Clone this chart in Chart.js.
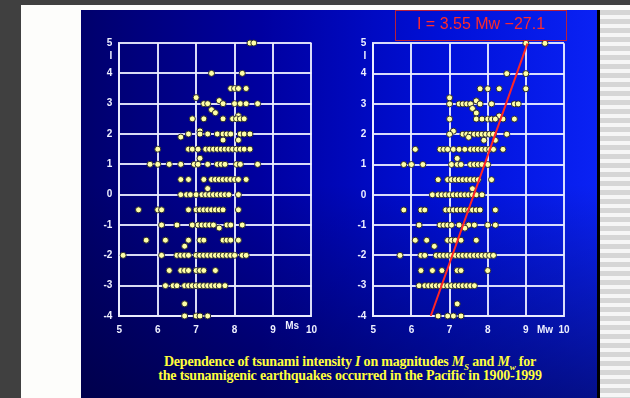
<!DOCTYPE html>
<html>
<head>
<meta charset="utf-8">
<script src="https://cdn.jsdelivr.net/npm/chart.js@4/dist/chart.umd.min.js"></script>
<style>
  html, body { margin: 0; padding: 0; }
  body { width: 630px; height: 398px; background: #404040; position: relative; overflow: hidden; font-family: "Liberation Sans", Arial, sans-serif; }
  #page { position: absolute; left: 21px; top: 5px; width: 609px; height: 393px; background: #fdfdfb; }
  #stripes { position: absolute; left: 600px; top: 10px; width: 30px; height: 388px;
    background: repeating-linear-gradient(to bottom, #d6d6d6 0px, #d6d6d6 5px, #f6f6f6 5px, #f6f6f6 9px); }
  #slide { position: absolute; left: 81px; top: 10px; width: 516px; height: 388px;
    border-right: 3px solid #000;
    background:
      linear-gradient(to bottom, rgba(0,0,40,0) 0%, rgba(0,0,40,0) 45%, rgba(0,0,50,0.55) 100%),
      linear-gradient(to right, #00006c 0%, #0000a0 35%, #0010d8 70%, #0a22f4 100%); }
  canvas { position: absolute; }
  #eq { position: absolute; left: 395px; top: 10px; width: 170px; height: 29px;
    border: 1px solid #b8203a; color: #ff2a2a; font: 16px "Liberation Sans", Arial, sans-serif;
    text-align: center; line-height: 26px; white-space: nowrap; }
  #caption { position: absolute; left: 80px; top: 355px; width: 540px; text-align: center;
    color: #ffff3c; font: bold 14px "Liberation Serif", "Times New Roman", serif; line-height: 14px;
    letter-spacing: -0.2px; }
  #caption sub { font-size: 9px; line-height: 0; }
</style>
</head>
<body>
<div id="page"></div>
<div id="stripes"></div>
<div id="slide"></div>
<canvas id="msChart" width="245" height="320" style="left:80px;top:30px;"></canvas>
<canvas id="mwChart" width="245" height="320" style="left:335px;top:30px;"></canvas>
<div id="eq"></div>
<div id="caption">Dependence of tsunami intensity <i>I</i> on magnitudes <i>M<sub>S</sub></i> and <i>M<sub>w</sub></i> for<br>the tsunamigenic earthquakes occurred in the Pacific in 1900-1999</div>
<script>
// Tsunami intensity levels and the surface-wave magnitudes (Ms) observed at each level
const msLevels = [5, 4, 3.5, 3.2, 3.1, 3, 2.8, 2.7, 2.6, 2.5, 2.1, 2, 1.9, 1.8, 1.5, 1.2, 1,
  0.5, 0.2, 0, -0.5, -1, -1.1, -1.5, -1.7, -2, -2.5, -3, -3.6, -4];
const msMagnitudes = [
  [8.4, 8.5],
  [7.4, 8.2],
  [7.9, 8.0, 8.1, 8.3],
  [7.0],
  [7.6],
  [7.2, 7.3, 7.7, 8.0, 8.15, 8.3, 8.6],
  [7.4],
  [7.5],
  [8.1],
  [6.9, 7.2, 7.7, 7.95, 8.05, 8.15, 8.25],
  [7.1],
  [6.8, 7.1, 7.3, 7.55, 7.7, 7.8, 7.9, 8.15, 8.25, 8.4],
  [6.6],
  [7.7, 8.1],
  [6.0, 6.8, 6.9, 7.05, 7.25, 7.35, 7.45, 7.55, 7.65, 7.75, 7.85, 7.95, 8.05, 8.15, 8.25, 8.4],
  [7.1],
  [5.8, 6.0, 6.3, 6.6, 6.95, 7.05, 7.3, 7.55, 7.65, 7.75, 8.05, 8.15, 8.6],
  [6.6, 6.8, 7.2, 7.4, 7.5, 7.6, 7.7, 7.8, 7.9, 8.0, 8.1, 8.3],
  [7.3],
  [6.6, 6.75, 6.85, 7.0, 7.15, 7.25, 7.35, 7.45, 7.55, 7.65, 7.75, 7.85, 8.1],
  [5.5, 6.0, 6.1, 6.8, 7.0, 7.1, 7.2, 7.3, 7.4, 7.5, 7.6, 7.7, 8.1],
  [6.1, 6.5, 6.9, 7.05, 7.15, 7.25, 7.35, 7.45, 7.8, 7.9, 8.2],
  [7.6],
  [5.7, 6.2, 6.8, 7.1, 7.2, 7.7, 7.8, 7.9, 8.1],
  [6.7],
  [5.1, 6.1, 6.5, 6.6, 6.7, 6.8, 7.0, 7.1, 7.2, 7.3, 7.4, 7.5, 7.6, 7.7, 7.8, 7.9, 8.0, 8.2, 8.3],
  [6.3, 6.6, 6.7, 6.8, 7.0, 7.1, 7.2, 7.5],
  [6.2, 6.4, 6.5, 6.7, 6.8, 6.9, 7.0, 7.1, 7.2, 7.3, 7.4, 7.5, 7.6, 7.75],
  [6.7],
  [6.7, 7.0, 7.1, 7.3]
];

// Intensity levels and the moment magnitudes (Mw) observed at each level
const mwLevels = [5, 4, 3.5, 3.2, 3.1, 3, 2.85, 2.7, 2.6, 2.5, 2.1, 2, 1.9, 1.8, 1.5, 1.2, 1,
  0.5, 0.2, 0, -0.5, -1, -1.1, -1.5, -1.7, -2, -2.5, -3, -3.6, -4];
const mwMagnitudes = [
  [9.0, 9.5],
  [8.5, 9.0],
  [7.8, 8.0, 8.3, 9.0],
  [7.0],
  [7.7],
  [7.0, 7.25, 7.35, 7.45, 7.55, 7.8, 8.1, 8.7, 8.8],
  [7.6],
  [7.7],
  [8.3],
  [7.0, 7.7, 7.85, 8.0, 8.1, 8.2, 8.4, 8.7],
  [7.1],
  [7.0, 7.35, 7.45, 7.55, 7.65, 7.75, 7.85, 7.95, 8.05, 8.15, 8.5],
  [7.5],
  [7.9, 8.2],
  [6.1, 6.75, 6.85, 6.95, 7.1, 7.25, 7.4, 7.55, 7.65, 7.75, 7.85, 7.95, 8.05, 8.15, 8.4],
  [7.2],
  [5.8, 6.0, 6.3, 7.05, 7.2, 7.3, 7.55, 7.65, 7.75, 7.85, 8.0],
  [6.7, 6.95, 7.05, 7.15, 7.25, 7.35, 7.45, 7.55, 7.65, 7.75, 8.1],
  [7.6],
  [6.55, 6.7, 6.8, 6.9, 7.0, 7.1, 7.2, 7.3, 7.4, 7.5, 7.6, 7.7, 7.85],
  [5.8, 6.25, 6.35, 6.9, 7.0, 7.1, 7.2, 7.3, 7.4, 7.5, 7.6, 7.7, 7.8, 8.2],
  [6.2, 6.75, 6.85, 6.95, 7.05, 7.25, 7.5, 7.65, 8.0, 8.2],
  [7.4],
  [6.1, 6.4, 6.95, 7.05, 7.15, 7.3, 7.7],
  [6.6],
  [5.7, 6.25, 6.35, 6.65, 6.75, 6.85, 6.95, 7.05, 7.15, 7.25, 7.35, 7.45, 7.55, 7.65, 7.75, 7.85, 7.95, 8.05, 8.15],
  [6.25, 6.55, 6.8, 7.2, 7.3, 8.0],
  [6.2, 6.35, 6.45, 6.55, 6.65, 6.75, 6.85, 6.95, 7.05, 7.15, 7.25, 7.35, 7.45, 7.55, 7.65],
  [7.2],
  [6.7, 6.95, 7.1, 7.3]
];

// Regression of intensity on moment magnitude: I = slope * Mw + intercept
const fitSlope = 3.55;
const fitIntercept = -27.1;
const fitRange = [-4, 5]; // intensity span covered by the fitted line

// Axis ticks
const magnitudeTicks = [5, 6, 7, 8, 9, 10];
const intensityTicks = [-4, -3, -2, -1, 0, 1, 2, 3, 4, 5];

function toPoints(levels, magnitudes) {
  const pts = [];
  levels.forEach((lvl, i) => magnitudes[i].forEach(m => pts.push({ x: m, y: lvl })));
  return pts;
}

document.getElementById('eq').textContent =
  'I = ' + fitSlope.toFixed(2) + ' Mw \u2212' + Math.abs(fitIntercept).toFixed(1);

// Writes the small axis names ("I" under the top tick, magnitude name near the x ticks)
const axisNames = {
  id: 'axisNames',
  afterDraw(chart, args, opts) {
    const { ctx, chartArea, scales } = chart;
    ctx.save();
    ctx.fillStyle = '#eef0ff';
    ctx.font = 'bold 10px "Liberation Sans", Arial, sans-serif';
    ctx.textAlign = 'right';
    ctx.textBaseline = 'middle';
    ctx.fillText(opts.yName, chartArea.left - 7, scales.y.getPixelForValue(5) + 13);
    ctx.textAlign = 'center';
    ctx.fillText(opts.xName, scales.x.getPixelForValue(opts.xAt), chartArea.bottom + opts.xDy);
    ctx.restore();
  }
};

const gridColor = 'rgba(236,238,255,0.92)';
const tickFont = { family: '"Liberation Sans", Arial, sans-serif', size: 10, weight: 'bold' };

function makeChart(canvasId, points, extraDatasets, pad, names) {
  const datasets = [{
    type: 'scatter',
    data: points,
    order: 2,
    pointRadius: 3,
    pointHoverRadius: 3,
    pointBackgroundColor: '#ffffa6',
    pointBorderColor: '#2c2c2c',
    pointBorderWidth: 1,
    clip: false
  }].concat(extraDatasets);
  return new Chart(document.getElementById(canvasId), {
    type: 'scatter',
    data: { datasets },
    plugins: [axisNames],
    options: {
      responsive: false,
      animation: false,
      devicePixelRatio: 1,
      layout: { padding: pad },
      plugins: {
        legend: { display: false },
        tooltip: { enabled: false },
        axisNames: names
      },
      scales: {
        x: {
          type: 'linear', min: 5, max: 10,
          afterBuildTicks: s => { s.ticks = magnitudeTicks.map(v => ({ value: v })); },
          afterFit: s => { s.height = 30; },
          ticks: { color: '#eef0ff', font: tickFont, padding: 8 },
          grid: { color: gridColor, lineWidth: 2, drawTicks: false },
          border: { color: gridColor, width: 2 }
        },
        y: {
          type: 'linear', min: -4, max: 5,
          afterBuildTicks: s => { s.ticks = intensityTicks.map(v => ({ value: v })); },
          afterFit: s => { s.width = 34; },
          ticks: { color: '#eef0ff', font: tickFont, padding: 7 },
          grid: { color: gridColor, lineWidth: 2, drawTicks: false },
          border: { color: gridColor, width: 2 }
        }
      }
    }
  });
}

makeChart('msChart', toPoints(msLevels, msMagnitudes), [],
  { left: 5.3, top: 12.7, right: 12.5, bottom: 4 },
  { yName: 'I', xName: 'Ms', xAt: 9.5, xDy: 10 });

const fitLine = fitRange.map(i => ({ x: (i - fitIntercept) / fitSlope, y: i }));
makeChart('mwChart', toPoints(mwLevels, mwMagnitudes), [{
    type: 'line',
    data: fitLine,
    order: 1,
    borderColor: '#ff2626',
    borderWidth: 2,
    pointRadius: 0,
    fill: false
  }],
  { left: 4.3, top: 13.3, right: 16, bottom: 4 },
  { yName: 'I', xName: 'Mw', xAt: 9.5, xDy: 14 });
</script>
</body>
</html>
